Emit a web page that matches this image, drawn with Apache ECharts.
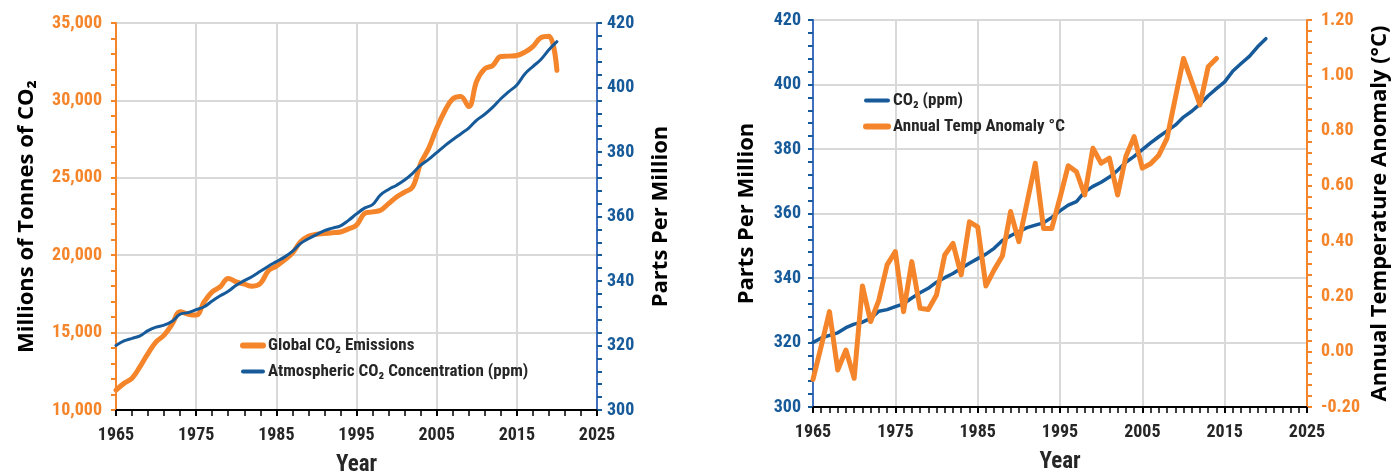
<!DOCTYPE html>
<html>
<head>
<meta charset="utf-8">
<script src="https://cdn.jsdelivr.net/npm/echarts@6/dist/echarts.min.js"></script>
<style>
  html, body { margin: 0; padding: 0; background: #fff; }
  #chart { width: 1391px; height: 474px; }
</style>
</head>
<body>
<div id="chart"></div>
<script>
// years shown in both panels
const years = [
  1965, 1966, 1967, 1968, 1969, 1970, 1971, 1972, 1973, 1974,
  1975, 1976, 1977, 1978, 1979, 1980, 1981, 1982, 1983, 1984,
  1985, 1986, 1987, 1988, 1989, 1990, 1991, 1992, 1993, 1994,
  1995, 1996, 1997, 1998, 1999, 2000, 2001, 2002, 2003, 2004,
  2005, 2006, 2007, 2008, 2009, 2010, 2011, 2012, 2013, 2014,
  2015, 2016, 2017, 2018, 2019, 2020
];
// global CO2 emissions, millions of tonnes
const emissions = [
  11290, 11720, 12050, 12800, 13660, 14400, 14840, 15550, 16340, 16190,
  16130, 16990, 17630, 17960, 18500, 18280, 18130, 18000, 18170, 18990,
  19290, 19680, 20130, 20860, 21230, 21350, 21400, 21450, 21500, 21700,
  21940, 22690, 22800, 22900, 23330, 23760, 24080, 24400, 25930, 26900,
  28200, 29300, 30100, 30250, 29600, 31250, 32040, 32260, 32840, 32860,
  32900, 33120, 33480, 34050, 34150, 31940
];
// atmospheric CO2, ppm
const co2 = [
  320.0, 321.4, 322.2, 323.0, 324.6, 325.7, 326.3, 327.5, 329.7, 330.2,
  331.1, 332.0, 333.8, 335.4, 336.8, 338.7, 340.1, 341.4, 343.0, 344.6,
  346.0, 347.4, 349.2, 351.6, 353.1, 354.4, 355.6, 356.4, 357.1, 358.8,
  360.8, 362.6, 363.7, 366.7, 368.4, 369.7, 371.3, 373.4, 375.9, 377.7,
  379.8, 381.9, 383.8, 385.6, 387.4, 389.9, 391.7, 393.9, 396.5, 398.7,
  400.8, 404.2, 406.5, 408.7, 411.7, 414.2
];
// annual temperature anomaly 1965-2014, deg C
const tempAnomaly = [
  -0.10, 0.02, 0.145, -0.066, 0.006, -0.096, 0.238, 0.109, 0.187, 0.314,
  0.362, 0.145, 0.326, 0.157, 0.153, 0.205, 0.35, 0.392, 0.278, 0.47,
  0.452, 0.238, 0.296, 0.346, 0.507, 0.398, 0.54, 0.682, 0.446, 0.446,
  0.557, 0.673, 0.651, 0.567, 0.736, 0.682, 0.70, 0.567, 0.706, 0.778,
  0.664, 0.68, 0.711, 0.772, 0.917, 1.061, 0.977, 0.893, 1.031, 1.061
];

const ORANGE = '#F5852B';
const BLUE = '#165A9A';
const BLUE_AXIS = '#3F6FBF';
const GRID = '#D9D9D9';
const NARROW = '"Liberation Sans Narrow", "Arial Narrow", "Roboto Condensed", sans-serif';
const WIDE = '"Open Sans", "Noto Sans", sans-serif';

const pairs = (xs, ys) => ys.map((v, i) => [xs[i], v]);

function yearAxis(gridIndex, minorSplit) {
  return {
    type: 'value', gridIndex, min: 1965, max: 2025, interval: 10,
    axisLine: { show: true, onZero: false, lineStyle: { color: '#000', width: 2 } },
    axisTick: { show: true, length: 6, lineStyle: { color: '#000', width: 2 } },
    minorTick: { show: true, splitNumber: minorSplit, length: 6, lineStyle: { color: '#000', width: 1.5 } },
    splitLine: { show: true, lineStyle: { color: GRID, width: 2 } },
    axisLabel: {
      color: '#262626', fontSize: 18, fontWeight: 'bold', fontFamily: NARROW, margin: 16,
      formatter: v => String(v)
    },
    name: 'Year', nameLocation: 'middle', nameGap: 44,
    nameTextStyle: { color: '#262626', fontSize: 23, fontWeight: 'bold', fontFamily: NARROW }
  };
}

function valAxis(opt) {
  const c = opt.color, lc = opt.lineColor || opt.color;
  return {
    type: 'value', gridIndex: opt.grid, position: opt.position,
    min: opt.min, max: opt.max, interval: opt.interval,
    axisLine: { show: true, lineStyle: { color: lc, width: 2 } },
    axisTick: { show: true, length: 5, lineStyle: { color: c, width: 2 } },
    minorTick: { show: true, splitNumber: 5, length: 5, lineStyle: { color: c, width: 2 } },
    splitLine: { show: opt.split, lineStyle: { color: GRID, width: 2 } },
    axisLabel: {
      color: c, fontSize: 18, fontWeight: 'bold', fontFamily: NARROW, margin: opt.margin,
      formatter: opt.fmt
    },
    name: opt.name, nameLocation: 'middle', nameRotate: 90, nameGap: opt.nameGap,
    nameTextStyle: { color: '#000', fontSize: 22, fontWeight: 'bold', fontFamily: WIDE }
  };
}

const legendText = { color: '#262626', fontSize: 17, fontWeight: 'bold', fontFamily: NARROW };
// hide the circle ECharts puts on line legend icons
const noMarker = { color: 'rgba(0,0,0,0)', borderWidth: 0, opacity: 0 };
const thick = { width: 6, cap: 'round' };
const thin = { width: 4, cap: 'round' };

const options = {
  animation: false,
  backgroundColor: '#fff',
  grid: [
    { left: 116, right: 794, top: 23, bottom: 64, outerBoundsMode: 'none' },
    { left: 813, right: 84, top: 20, bottom: 67, outerBoundsMode: 'none' }
  ],
  legend: [
    {
      orient: 'vertical', left: 235, top: 332, itemWidth: 20, itemHeight: 14, itemGap: 9,
      data: [
        { name: 'Global CO₂ Emissions', lineStyle: thick },
        { name: 'Atmospheric CO₂ Concentration (ppm)', lineStyle: thin }
      ],
      itemStyle: noMarker, textStyle: legendText
    },
    {
      orient: 'vertical', left: 858, top: 87, itemWidth: 22, itemHeight: 14, itemGap: 9,
      data: [
        { name: 'CO₂ (ppm)', lineStyle: thin },
        { name: 'Annual Temp Anomaly °C', lineStyle: thick }
      ],
      itemStyle: noMarker, textStyle: legendText
    }
  ],
  xAxis: [yearAxis(0, 5), yearAxis(1, 10)],
  yAxis: [
    valAxis({ grid: 0, position: 'left', min: 10000, max: 35000, interval: 5000, color: ORANGE,
      split: true, margin: 14, name: 'Millions of Tonnes of CO₂', nameGap: 78 }),
    valAxis({ grid: 0, position: 'right', min: 300, max: 420, interval: 20, color: BLUE,
      lineColor: BLUE_AXIS, split: false, margin: 10, name: 'Parts Per Million', nameGap: 53 }),
    valAxis({ grid: 1, position: 'left', min: 300, max: 420, interval: 20, color: BLUE,
      lineColor: BLUE_AXIS, split: true, margin: 12, name: 'Parts Per Million', nameGap: 55 }),
    valAxis({ grid: 1, position: 'right', min: -0.2, max: 1.2, interval: 0.2, color: ORANGE,
      split: false, margin: 14, name: 'Annual Temperature Anomaly (°C)', nameGap: 62,
      fmt: v => v.toFixed(2) })
  ],
  series: [
    {
      name: 'Global CO₂ Emissions', type: 'line', xAxisIndex: 0, yAxisIndex: 0,
      data: pairs(years, emissions), smooth: 0.4, symbol: 'none',
      lineStyle: { color: ORANGE, width: 5, cap: 'round' }, itemStyle: { color: ORANGE }
    },
    {
      name: 'Atmospheric CO₂ Concentration (ppm)', type: 'line', xAxisIndex: 0, yAxisIndex: 1,
      data: pairs(years, co2), smooth: 0.4, symbol: 'none',
      lineStyle: { color: BLUE, width: 3, cap: 'round' }, itemStyle: { color: BLUE }
    },
    {
      name: 'CO₂ (ppm)', type: 'line', xAxisIndex: 1, yAxisIndex: 2,
      data: pairs(years, co2), symbol: 'none',
      lineStyle: { color: BLUE, width: 3.5, cap: 'round' }, itemStyle: { color: BLUE }
    },
    {
      name: 'Annual Temp Anomaly °C', type: 'line', xAxisIndex: 1, yAxisIndex: 3,
      data: pairs(years, tempAnomaly), symbol: 'none',
      lineStyle: { color: ORANGE, width: 5, cap: 'round', join: 'round' }, itemStyle: { color: ORANGE }
    }
  ]
};

const myChart = echarts.init(document.getElementById('chart'));
myChart.setOption(options);
</script>
</body>
</html>
